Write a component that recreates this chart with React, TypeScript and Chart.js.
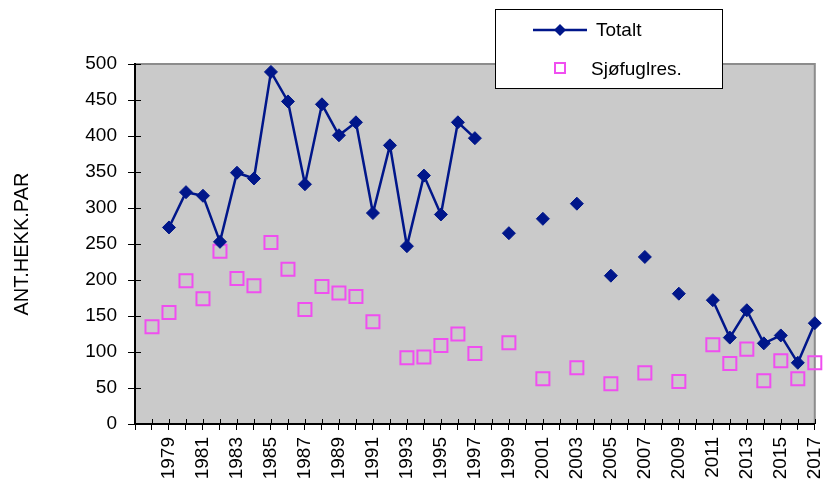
import React, { useEffect, useRef } from "react";
import { Chart, registerables } from "chart.js";

Chart.register(...registerables);

const years = [
  "1977", "1978", "1979", "1980", "1981", "1982", "1983", "1984", "1985", "1986",
  "1987", "1988", "1989", "1990", "1991", "1992", "1993", "1994", "1995", "1996",
  "1997", "1998", "1999", "2000", "2001", "2002", "2003", "2004", "2005", "2006",
  "2007", "2008", "2009", "2010", "2011", "2012", "2013", "2014", "2015", "2016",
  "2017",
];

const totalt: (number | null)[] = [
  null, null, 273, 322, 317, 253, 349, 341, 489, 448,
  333, 444, 401, 419, 293, 387, 247, 345, 291, 419,
  397, null, 265, null, 285, null, 306, null, 206, null,
  232, null, 181, null, 172, 120, 158, 112, 123, 85,
  140,
];

const sjofuglres: (number | null)[] = [
  null, 135, 155, 199, 174, 240, 202, 192, 252, 215,
  159, 191, 182, 177, 142, null, 92, 93, 109, 125,
  98, null, 113, null, 63, null, 78, null, 56, null,
  71, null, 59, null, 110, 84, 104, 60, 88, 63,
  85,
];

const yTicks = { min: 0, max: 500, step: 50 };
const yTitle = "ANT.HEKK.PAR";
const seriesNames = ["Totalt", "Sjøfuglres."];

const FONT = "'Liberation Sans', Arial, sans-serif";
const NAVY = "#00168a";
const PINK = "#f04ef0";
const PLOT_BG = "#cacaca";

const decorPlugin = {
  id: "decor",
  beforeDraw(chart: any) {
    const { ctx, chartArea: a } = chart;
    ctx.save();
    ctx.fillStyle = "#ffffff";
    ctx.fillRect(0, 0, chart.width, chart.height);
    ctx.fillStyle = PLOT_BG;
    ctx.fillRect(a.left, a.top, a.right - a.left, a.bottom - a.top);
    ctx.strokeStyle = "#8c8c8c";
    ctx.lineWidth = 2;
    ctx.beginPath();
    ctx.moveTo(a.left, a.top);
    ctx.lineTo(a.right, a.top);
    ctx.lineTo(a.right, a.bottom);
    ctx.stroke();
    ctx.restore();
  },
  afterDraw(chart: any) {
    const { ctx, chartArea: a } = chart;
    const xs = chart.scales.x;
    const ys = chart.scales.y;
    ctx.save();
    ctx.strokeStyle = "#000";
    ctx.lineWidth = 1;
    ctx.beginPath();
    for (let i = 0; i < years.length; i++) {
      const px = Math.round(xs.getPixelForValue(i)) + 0.5;
      ctx.moveTo(px, a.bottom);
      ctx.lineTo(px, a.bottom - 5);
    }
    for (let v = yTicks.min; v <= yTicks.max; v += yTicks.step) {
      const py = Math.round(ys.getPixelForValue(v)) + 0.5;
      ctx.moveTo(a.left, py);
      ctx.lineTo(a.left + 6, py);
    }
    ctx.stroke();

    const bx = 495.5, by = 9.5, bw = 227, bh = 79;
    ctx.fillStyle = "#ffffff";
    ctx.fillRect(bx, by, bw, bh);
    ctx.strokeStyle = "#000";
    ctx.lineWidth = 1;
    ctx.strokeRect(bx, by, bw, bh);

    ctx.strokeStyle = NAVY;
    ctx.lineWidth = 2.5;
    ctx.beginPath();
    ctx.moveTo(533, 30);
    ctx.lineTo(587, 30);
    ctx.stroke();
    ctx.fillStyle = NAVY;
    ctx.beginPath();
    ctx.moveTo(560, 24);
    ctx.lineTo(566, 30);
    ctx.lineTo(560, 36);
    ctx.lineTo(554, 30);
    ctx.closePath();
    ctx.fill();

    ctx.strokeStyle = PINK;
    ctx.lineWidth = 2;
    ctx.strokeRect(555, 63, 10, 10);

    ctx.fillStyle = "#000";
    ctx.font = `19px ${FONT}`;
    ctx.textBaseline = "middle";
    ctx.textAlign = "left";
    ctx.fillText(seriesNames[0], 596, 31);
    ctx.fillText(seriesNames[1], 591, 70);
    ctx.restore();
  },
};

export default function App() {
  const ref = useRef<HTMLCanvasElement | null>(null);

  useEffect(() => {
    document.body.style.margin = "0";
    if (!ref.current) return;
    const chart = new Chart(ref.current, {
      type: "line",
      data: {
        labels: years,
        datasets: [
          {
            label: seriesNames[0],
            data: totalt,
            borderColor: NAVY,
            backgroundColor: NAVY,
            borderWidth: 2.5,
            pointStyle: "rectRot",
            pointRadius: 6.5,
            pointBorderWidth: 1,
            pointBackgroundColor: NAVY,
            pointBorderColor: NAVY,
            spanGaps: false,
            tension: 0,
            clip: false as any,
          },
          {
            label: seriesNames[1],
            data: sjofuglres,
            showLine: false,
            borderColor: PINK,
            backgroundColor: "rgba(0,0,0,0)",
            pointStyle: "rect",
            pointRadius: 9.2,
            pointBorderWidth: 2,
            pointBorderColor: PINK,
            pointBackgroundColor: "rgba(0,0,0,0)",
            clip: false as any,
          },
        ],
      },
      options: {
        responsive: false,
        animation: false,
        devicePixelRatio: 1,
        layout: { padding: { top: 64, right: 11, left: 0, bottom: 0 } },
        plugins: {
          legend: { display: false },
          title: { display: false },
          tooltip: { enabled: false },
        },
        scales: {
          x: {
            type: "category",
            offset: false,
            afterFit: (s: any) => {
              s.height = 59;
              s.paddingLeft = 0;
              s.paddingRight = 0;
            },
            grid: {
              display: true,
              drawOnChartArea: false,
              drawTicks: true,
              tickLength: 6,
              color: "#000",
            },
            border: { display: true, color: "#000", width: 2 },
            ticks: {
              autoSkip: false,
              maxRotation: 90,
              minRotation: 90,
              padding: 7,
              color: "#000",
              font: { family: FONT, size: 19 },
              callback: (_v: any, i: number) => {
                const y = Number(years[i]);
                return y >= 1979 && y % 2 === 1 ? years[i] : "";
              },
            },
          },
          y: {
            min: yTicks.min,
            max: yTicks.max,
            afterFit: (s: any) => {
              s.width = 135;
              s.paddingTop = 0;
              s.paddingBottom = 0;
            },
            grid: {
              display: true,
              drawOnChartArea: false,
              drawTicks: true,
              tickLength: 7,
              color: "#000",
            },
            border: { display: true, color: "#000", width: 2 },
            ticks: {
              stepSize: yTicks.step,
              padding: 11,
              color: "#000",
              font: { family: FONT, size: 19 },
            },
            title: {
              display: true,
              text: yTitle,
              color: "#000",
              font: { family: FONT, size: 20 },
              padding: { top: 10, bottom: 0 },
            },
          },
        },
      },
      plugins: [decorPlugin],
    });
    return () => chart.destroy();
  }, []);

  return (
    <div style={{ width: 826, height: 483 }}>
      <canvas ref={ref} width={826} height={483} />
    </div>
  );
}
